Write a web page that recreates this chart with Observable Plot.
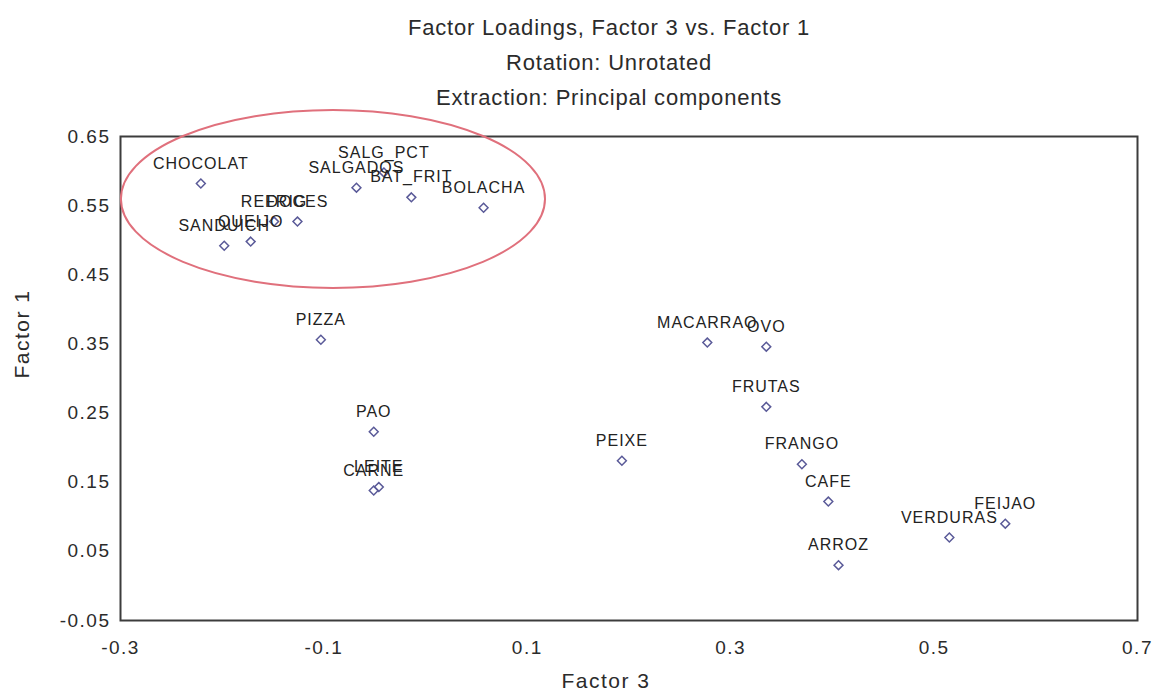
<!DOCTYPE html>
<html>
<head>
<meta charset="utf-8">
<script src="https://cdn.jsdelivr.net/npm/d3@7"></script>
<script src="https://cdn.jsdelivr.net/npm/@observablehq/plot@0.6"></script>
<style>
  html, body { margin: 0; padding: 0; background: #fff; }
  #titles {
    width: 1154px; box-sizing: border-box; padding: 10px 0 0 64px;
    text-align: center; color: #2b2b2b;
    font-family: "Liberation Sans", Arial, sans-serif;
    font-size: 22px; line-height: 35px; letter-spacing: 0.8px;
  }
  #chart svg { overflow: visible; display: block; }
  #chart g[aria-label^="x-axis"] text, #chart g[aria-label^="y-axis"] text { letter-spacing: 1.5px; }
  #chart g[aria-description="food labels"] text { letter-spacing: 1px; }
  #chart g[aria-description="axis titles"] text { letter-spacing: 1.5px; }
</style>
</head>
<body>
<div id="titles">
  <div>Factor Loadings, Factor 3 vs. Factor 1</div>
  <div>Rotation: Unrotated</div>
  <div>Extraction: Principal components</div>
</div>
<div id="chart"></div>
<script>
// Food variables and their loadings on factor 3 (x) and factor 1 (y)
const foods = ["CHOCOLAT", "SALG_PCT", "SALGADOS", "BAT_FRIT", "BOLACHA", "REFRIG", "DOCES",
  "QUEIJO", "SANDUICH", "PIZZA", "MACARRAO", "OVO", "FRUTAS", "PAO", "PEIXE", "FRANGO",
  "LEITE", "CARNE", "CAFE", "FEIJAO", "VERDURAS", "ARROZ"];
const factor3 = [-0.221, -0.041, -0.068, -0.014, 0.057, -0.149, -0.126,
  -0.172, -0.198, -0.103, 0.277, 0.335, 0.335, -0.051, 0.193, 0.370,
  -0.046, -0.051, 0.396, 0.570, 0.515, 0.406];
const factor1 = [0.582, 0.598, 0.576, 0.562, 0.547, 0.527, 0.527,
  0.498, 0.492, 0.356, 0.352, 0.346, 0.259, 0.223, 0.181, 0.176,
  0.143, 0.138, 0.122, 0.090, 0.070, 0.030];

const xTicks = [-0.3, -0.1, 0.1, 0.3, 0.5, 0.7];
const yTicks = [0.65, 0.55, 0.45, 0.35, 0.25, 0.15, 0.05, -0.05];

// Highlight ellipse around the snack cluster, in data units
const clusterCenter = [-0.0906, 0.559];
const clusterRadii = [0.2085, 0.1287];

const rows = foods.map((name, i) => ({name, f3: factor3[i], f1: factor1[i]}));

const font = '"Liberation Sans", Arial, sans-serif';

const ellipseMark = (index, scales) => {
  const {x, y} = scales;
  const cx = x(clusterCenter[0]), cy = y(clusterCenter[1]);
  return d3.create("svg:ellipse")
    .attr("cx", cx).attr("cy", cy)
    .attr("rx", x(clusterCenter[0] + clusterRadii[0]) - cx)
    .attr("ry", cy - y(clusterCenter[1] + clusterRadii[1]))
    .attr("fill", "none")
    .attr("stroke", "#e0707c")
    .attr("stroke-width", 2)
    .node();
};

const chart = Plot.plot({
  width: 1154,
  height: 584,
  marginTop: 21,
  marginBottom: 79,
  marginLeft: 120,
  marginRight: 17,
  style: {
    fontFamily: font,
    fontSize: "19px",
    color: "#2b2b2b",
    background: "#fff",
    overflow: "visible"
  },
  x: {domain: [-0.3, 0.7], ticks: xTicks, tickFormat: d => d.toFixed(1), tickSize: 0, tickPadding: 20, label: null},
  y: {domain: [-0.05, 0.65], ticks: yTicks, tickFormat: d => d.toFixed(2), tickSize: 0, tickPadding: 10, label: null},
  marks: [
    Plot.frame({stroke: "#3c3c3c", strokeWidth: 2}),
    Plot.dot(rows, {x: "f3", y: "f1", symbol: "diamond2", r: 4, stroke: "#5a5a98", strokeWidth: 1.5}),
    Plot.text(rows, {
      x: "f3", y: "f1", text: "name", dy: -20,
      fontFamily: font, fontSize: 16, fill: "#222",
      ariaDescription: "food labels"
    }),
    Plot.text(["Factor 3"], {
      frameAnchor: "bottom", dx: -23, dy: 67, fontSize: 21, fill: "#2b2b2b",
      ariaDescription: "axis titles"
    }),
    Plot.text(["Factor 1"], {
      frameAnchor: "left", dx: -98, dy: 0, rotate: -90, fontSize: 21, fill: "#2b2b2b",
      ariaDescription: "axis titles"
    }),
    ellipseMark
  ]
});

document.getElementById("chart").appendChild(chart);
</script>
</body>
</html>
